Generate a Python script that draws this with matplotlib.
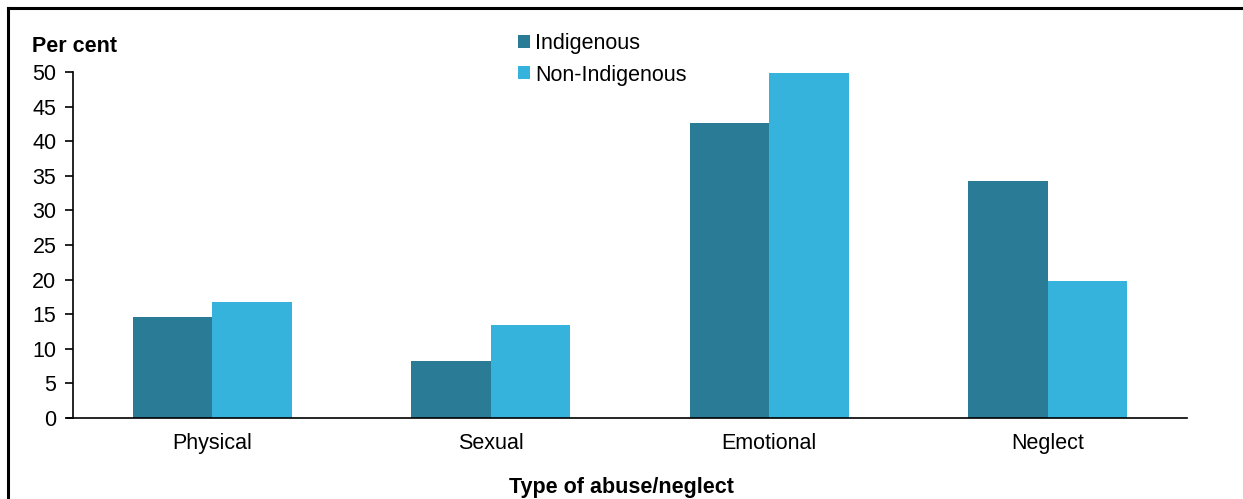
import matplotlib.pyplot as plt
import numpy as np
from matplotlib.lines import Line2D

categories = ['Physical', 'Sexual', 'Emotional', 'Neglect']
indigenous = [14.6, 8.2, 42.7, 34.2]
non_indigenous = [16.8, 13.4, 49.9, 19.8]
yticks = [0, 5, 10, 15, 20, 25, 30, 35, 40, 45, 50]

plt.rcParams['font.family'] = ['Liberation Sans', 'DejaVu Sans']
fs = 15.5

fig = plt.figure(figsize=(12.43, 4.99), dpi=100)
ax = fig.add_axes([73/1243, 1 - 418/499, (1187 - 73)/1243, (418 - 72)/499])

x = np.arange(len(categories))
w = 0.285
ax.bar(x - w/2, indigenous, w, color='#2a7b96', label='Indigenous')
ax.bar(x + w/2, non_indigenous, w, color='#35b3dc', label='Non-Indigenous')

ax.set_xlim(-0.5, 3.5)
ax.set_ylim(0, 50)
ax.set_yticks(yticks)
ax.set_xticks(x)
ax.set_xticklabels(categories)
ax.tick_params(axis='y', direction='out', length=6, width=1.2, labelsize=fs, pad=6)
ax.tick_params(axis='x', length=0, labelsize=fs, pad=11)
for s in ['top', 'right']:
    ax.spines[s].set_visible(False)
ax.spines['left'].set_linewidth(1.2)
ax.spines['bottom'].set_linewidth(1.2)
ax.spines['bottom'].set_bounds(-0.52, 3.5)

leg = ax.legend(loc='upper left', bbox_to_anchor=(507/1243, 1 - 22/499), bbox_transform=fig.transFigure,
                frameon=False, fontsize=fs, handlelength=0.55, handleheight=0.55,
                handletextpad=0.25, labelspacing=0.5, borderpad=0)

fig.text(32/1243, 1 - 46/499, 'Per cent', fontsize=fs, fontweight='bold', va='center', ha='left')
fig.text(621/1243, 1 - 487/499, 'Type of abuse/neglect', fontsize=fs, fontweight='bold',
         va='center', ha='center')

# frame lines (left and top)
fig.add_artist(Line2D([7.5/1243, 7.5/1243], [0, 1 - 8/499], transform=fig.transFigure, color='black', lw=2.2))
fig.add_artist(Line2D([7.5/1243, 1], [1 - 8/499, 1 - 8/499], transform=fig.transFigure, color='black', lw=2.2))

fig.savefig('out.png', dpi=100)
